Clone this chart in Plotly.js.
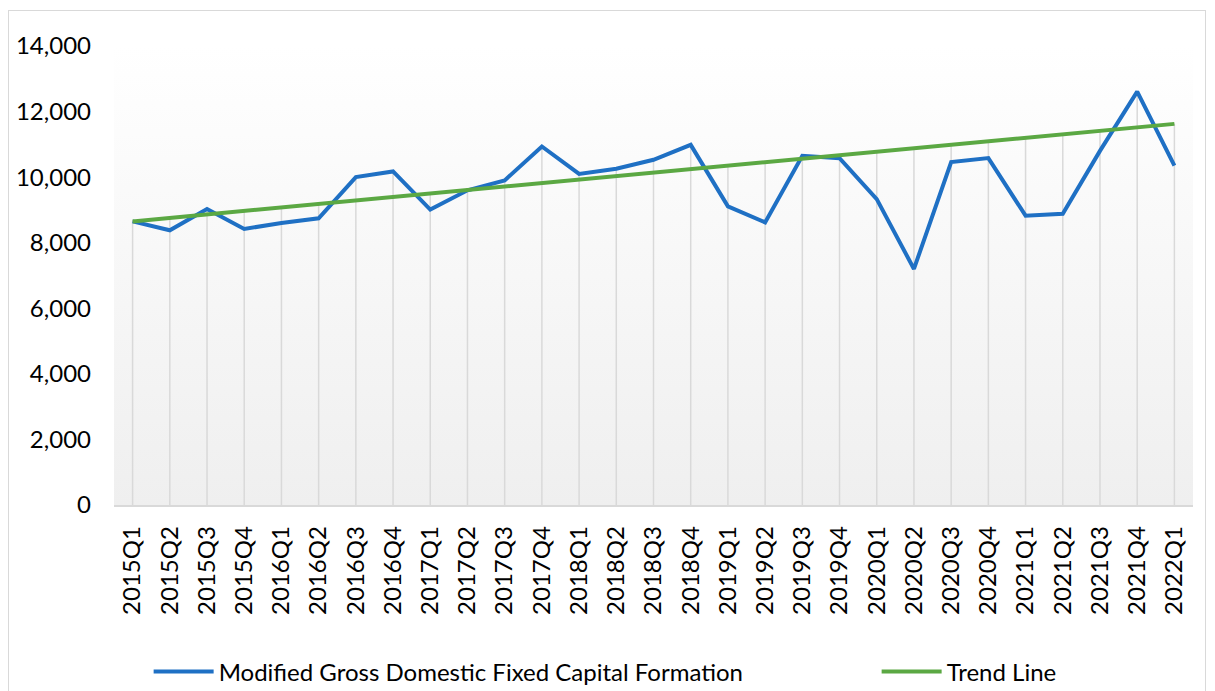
<!DOCTYPE html>
<html>
<head>
<meta charset="utf-8">
<script src="https://cdn.plot.ly/plotly-3.0.1.min.js"></script>
<style>
  html, body { margin: 0; padding: 0; background: #ffffff; }
  #chart { position: absolute; left: 0; top: 0; width: 1215px; height: 691px; }
  #frame { position: absolute; left: 8px; top: 10px; width: 1198px; height: 700px;
           border: 1px solid #d9d9d9; pointer-events: none; box-sizing: border-box; }
</style>
</head>
<body>
<div id="chart"></div>
<div id="frame"></div>
<script>
const categories = ["2015Q1","2015Q2","2015Q3","2015Q4","2016Q1","2016Q2","2016Q3","2016Q4",
  "2017Q1","2017Q2","2017Q3","2017Q4","2018Q1","2018Q2","2018Q3","2018Q4",
  "2019Q1","2019Q2","2019Q3","2019Q4","2020Q1","2020Q2","2020Q3","2020Q4",
  "2021Q1","2021Q2","2021Q3","2021Q4","2022Q1"];

const modifiedGDFCF = [8650, 8380, 9030, 8420, 8600, 8745, 10000, 10175,
  9010, 9600, 9900, 10935, 10100, 10255, 10530, 10985,
  9110, 8620, 10650, 10580, 9330, 7200, 10460, 10580,
  8825, 8885, 10800, 12610, 10350];

const trendLine = [8650, 8756, 8863, 8969, 9075, 9181, 9288, 9394,
  9500, 9606, 9713, 9819, 9925, 10031, 10138, 10244,
  10350, 10456, 10563, 10669, 10775, 10881, 10988, 11094,
  11200, 11306, 11413, 11519, 11625];

const seriesNames = ["Modified Gross Domestic Fixed Capital Formation", "Trend Line"];
const yTickValues = [0, 2000, 4000, 6000, 8000, 10000, 12000, 14000];

// Drop lines: from axis up to the higher of the two series at each category
const dropX = [], dropY = [];
categories.forEach((c, i) => {
  dropX.push(c, c, null);
  dropY.push(0, Math.max(modifiedGDFCF[i], trendLine[i]), null);
});

const FONT = "Lato, 'Open Sans', 'Liberation Sans', sans-serif";

const traces = [
  { x: dropX, y: dropY, type: "scatter", mode: "lines",
    line: { color: "#d9d9d9", width: 1.5 }, showlegend: false, hoverinfo: "skip" },
  { x: categories, y: modifiedGDFCF, type: "scatter", mode: "lines", name: seriesNames[0],
    legendwidth: 653,
    line: { color: "#1f70c4", width: 4, shape: "linear" } },
  { x: categories, y: trendLine, type: "scatter", mode: "lines", name: seriesNames[1],
    legendwidth: 130,
    line: { color: "#5ba843", width: 4 } }
];

const svg = "<svg xmlns='http://www.w3.org/2000/svg' width='100' height='100' preserveAspectRatio='none'>" +
  "<defs><linearGradient id='g' x1='0' y1='0' x2='0' y2='1'>" +
  "<stop offset='0' stop-color='#ffffff'/><stop offset='1' stop-color='#efefef'/>" +
  "</linearGradient></defs><rect width='100' height='100' fill='url(#g)'/></svg>";

const layout = {
  width: 1215, height: 691,
  margin: { l: 114, r: 22, t: 46, b: 186, pad: 0 },
  paper_bgcolor: "rgba(0,0,0,0)",
  plot_bgcolor: "rgba(0,0,0,0)",
  font: { family: FONT, size: 24, color: "#000000" },
  images: [{
    source: "data:image/svg+xml;utf8," + encodeURIComponent(svg),
    xref: "paper", yref: "paper", x: 0, y: 1, sizex: 1, sizey: 1,
    xanchor: "left", yanchor: "top", sizing: "stretch", layer: "below"
  }],
  xaxis: {
    type: "category",
    range: [-0.5, categories.length - 0.5],
    tickangle: -90,
    showgrid: false, zeroline: false,
    showline: true, linecolor: "#d9d9d9", linewidth: 1.5,
    ticks: "", ticklabelstandoff: 10,
    automargin: false,
    tickfont: { family: FONT, size: 24, color: "#000000" },
    fixedrange: true
  },
  yaxis: {
    range: [0, 14000],
    tickvals: yTickValues,
    tickformat: ",d",
    showgrid: false, zeroline: false, showline: false,
    ticks: "", ticklabelstandoff: 22,
    automargin: false,
    tickfont: { family: FONT, size: 24, color: "#000000" },
    fixedrange: true
  },
  showlegend: true,
  legend: {
    orientation: "h",
    xref: "paper", x: 0.0321, xanchor: "left",
    yref: "container", y: 0.0275, yanchor: "middle",
    itemwidth: 60,
    font: { family: FONT, size: 24, color: "#000000" },
    bgcolor: "rgba(0,0,0,0)"
  },
  hovermode: false
};

Plotly.newPlot("chart", traces, layout, { displayModeBar: false, staticPlot: true });
</script>
</body>
</html>
